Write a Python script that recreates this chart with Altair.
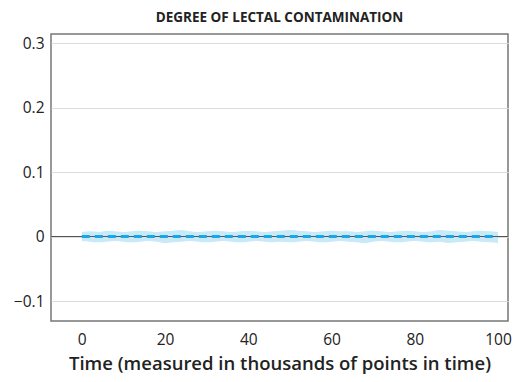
import altair as alt
import pandas as pd

# time (thousands of points in time)
time = list(range(0, 101, 2))
# mean degree of lectal contamination
mean = [0.0] * len(time)
# upper / lower bounds of the band
upper = [0.007, 0.008, 0.007, 0.009, 0.008, 0.007, 0.008, 0.009, 0.008, 0.007,
         0.008, 0.009, 0.010, 0.008, 0.007, 0.008, 0.009, 0.008, 0.007, 0.008,
         0.009, 0.008, 0.007, 0.008, 0.009, 0.010, 0.009, 0.008, 0.007, 0.008,
         0.009, 0.008, 0.008, 0.007, 0.008, 0.009, 0.008, 0.007, 0.008, 0.009,
         0.008, 0.007, 0.008, 0.010, 0.009, 0.008, 0.007, 0.008, 0.009, 0.008, 0.007]
lower = [-0.007, -0.008, -0.009, -0.008, -0.007, -0.008, -0.009, -0.008, -0.007, -0.008,
         -0.010, -0.009, -0.008, -0.007, -0.008, -0.009, -0.008, -0.007, -0.008, -0.009,
         -0.008, -0.007, -0.008, -0.009, -0.008, -0.009, -0.008, -0.007, -0.008, -0.009,
         -0.008, -0.007, -0.008, -0.009, -0.010, -0.008, -0.007, -0.008, -0.009, -0.008,
         -0.007, -0.008, -0.009, -0.008, -0.010, -0.009, -0.008, -0.007, -0.008, -0.009, -0.010]

x_ticks = [0, 20, 40, 60, 80, 100]
y_ticks = [-0.1, 0, 0.1, 0.2, 0.3]

df = pd.DataFrame({"time": time, "mean": mean, "upper": upper, "lower": lower})

FONT = "Open Sans"
ydom = [-0.131, 0.314]

x = alt.X("time:Q",
          scale=alt.Scale(domain=[-7.4, 102.4], nice=False, zero=False),
          axis=alt.Axis(values=x_ticks, grid=False, ticks=False, domain=False,
                        labelFontSize=15.5, labelPadding=11, labelColor="#222",
                        labelFont=FONT,
                        title="Time (measured in thousands of points in time)",
                        titleFont=FONT, titleFontSize=18.5, titleFontWeight=600,
                        titleColor="#222", titlePadding=7))
y_axis = alt.Axis(values=y_ticks, grid=True, gridColor="#dcdcdc",
                  ticks=False, domain=False, labelFontSize=15.5,
                  labelPadding=7, labelColor="#222", labelFont=FONT,
                  labelExpr="datum.value < 0 ? '\u2212' + format(-datum.value, '.1f') : (datum.value == 0 ? '0' : format(datum.value, '.1f'))",
                  title=None)

base = alt.Chart(df)

band = base.mark_area(color="#c8e9f8", opacity=1, interpolate="monotone").encode(
    x=x,
    y=alt.Y("lower:Q", scale=alt.Scale(domain=ydom, nice=False, zero=False), axis=y_axis),
    y2="upper:Q")

zero_rule = base.mark_rule(color="#555", strokeWidth=1.2).encode(y=alt.datum(0))

line = base.mark_line(color="#1aa7e8", strokeWidth=3, strokeDash=[8, 5]).encode(
    x=x, y=alt.Y("mean:Q"))

chart = alt.layer(band, zero_rule, line).properties(
    width=457, height=287,
    background="white",
    title=alt.TitleParams("DEGREE OF LECTAL CONTAMINATION", font=FONT,
                          fontSize=13.5, fontWeight=700, color="#222",
                          offset=10, anchor="middle"),
    autosize=alt.AutoSizeParams(type="none"),
    padding={"left": 51, "top": 34, "right": 9, "bottom": 61},
).configure_view(stroke="#777", strokeWidth=1.5)

chart.save("out.html", embed_options={"renderer": "svg", "actions": False})
